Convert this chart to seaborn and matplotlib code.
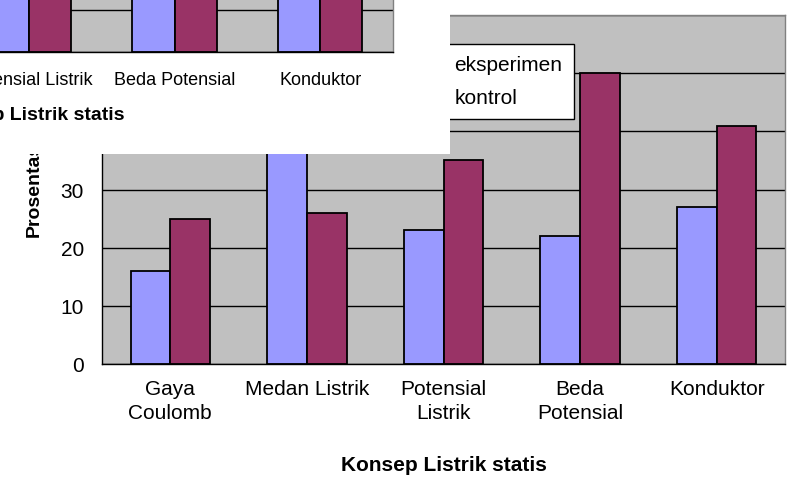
import matplotlib
matplotlib.use("Agg")
import matplotlib.pyplot as plt
from matplotlib.patches import Rectangle, Patch
import seaborn as sns
import pandas as pd

# data
categories = ["Gaya\nCoulomb", "Medan Listrik", "Potensial\nListrik", "Beda\nPotensial", "Konduktor"]
eksperimen = [16, 40, 23, 22, 27]
kontrol = [25, 26, 35, 50, 41]
series_names = ["eksperimen", "kontrol"]
y_ticks = [0, 10, 20, 30, 40, 50, 60]

# the pasted second chart (only its lower strip is visible)
inset_categories = ["Gaya Coulomb", "Medan Listrik", "Potensial Listrik", "Beda Potensial", "Konduktor"]
inset_eksperimen = [30, 35, 32, 30, 34]
inset_kontrol = [32, 30, 38, 45, 40]

colors = ["#9999FF", "#993366"]
W, H = 788, 485

sns.set_style("white")
plt.rcParams["font.family"] = ["Liberation Sans", "DejaVu Sans"]
plt.rcParams["text.color"] = "black"
plt.rcParams["axes.labelcolor"] = "black"
plt.rcParams["xtick.color"] = "black"
plt.rcParams["ytick.color"] = "black"


def long_df(cats, a, b):
    rows = []
    for c, v1, v2 in zip(cats, a, b):
        rows.append({"cat": c, "seri": series_names[0], "val": v1})
        rows.append({"cat": c, "seri": series_names[1], "val": v2})
    return pd.DataFrame(rows)


def style_axes(ax, ncat):
    ax.set_facecolor("#C0C0C0")
    ax.set_xlim(-0.5, ncat - 0.5)
    ax.set_xticks([i - 0.5 for i in range(ncat + 1)], minor=True)
    ax.tick_params(axis="x", which="major", length=0)
    ax.tick_params(axis="x", which="minor", length=7, width=1, color="black", direction="out")
    ax.set_axisbelow(True)
    ax.yaxis.grid(True, color="black", linewidth=1)
    ax.xaxis.grid(False)
    for s in ["left", "bottom"]:
        ax.spines[s].set_color("black")
        ax.spines[s].set_linewidth(1)
    for s in ["top", "right"]:
        ax.spines[s].set_color("#808080")
        ax.spines[s].set_linewidth(1)


fig = plt.figure(figsize=(W / 100, H / 100), dpi=100)

# main chart
ax = fig.add_axes([102 / W, 1 - 365 / H, (785 - 102) / W, (365 - 16) / H])
df = long_df(categories, eksperimen, kontrol)
sns.barplot(data=df, x="cat", y="val", hue="seri", palette=colors, width=0.58,
            edgecolor="black", linewidth=1.3, saturation=1, ax=ax, legend=False)
style_axes(ax, len(categories))
ax.set_ylim(0, 60)
ax.set_yticks(y_ticks)
ax.tick_params(axis="y", length=7, width=1, color="black", direction="out", pad=6, labelsize=15)
ax.tick_params(axis="x", which="major", pad=11, labelsize=15)
for lbl in ax.get_xticklabels():
    lbl.set_linespacing(1.3)
ax.set_xlabel("Konsep Listrik statis", fontsize=15, fontweight="bold", labelpad=24)
ax.set_ylabel("Prosentase", fontsize=14, fontweight="bold")
ax.yaxis.set_label_coords((43 - 102) / 683, 0.516)

handles = [Patch(facecolor=c, edgecolor="black") for c in colors]
leg = ax.legend(handles, series_names, loc="upper right",
                bbox_to_anchor=(574 / W, 1 - 45 / H), bbox_transform=fig.transFigure,
                fontsize=15, frameon=True, fancybox=False, framealpha=1, borderpad=0.55,
                labelspacing=0.66, handletextpad=0.4, borderaxespad=0)
leg.get_frame().set_edgecolor("black")
leg.get_frame().set_facecolor("white")
leg.get_frame().set_linewidth(1)

# white pasted box covering the upper left corner
fig.add_artist(Rectangle((0, 1 - 155 / H), 450 / W, 155 / H, transform=fig.transFigure,
                         facecolor="white", edgecolor="none", zorder=5))

# lower strip of the other chart, pasted on the white box
left_px, right_px = -335, 393
ax2 = fig.add_axes([left_px / W, 1 - 53 / H, (right_px - left_px) / W, 252 / H], zorder=10)
df2 = long_df(inset_categories, inset_eksperimen, inset_kontrol)
sns.barplot(data=df2, x="cat", y="val", hue="seri", palette=colors, width=0.58,
            edgecolor="black", linewidth=1.3, saturation=1, ax=ax2, legend=False)
style_axes(ax2, len(inset_categories))
ax2.set_ylim(0, 60)
ax2.set_yticks(y_ticks)
ax2.tick_params(axis="x", which="minor", length=5)
ax2.tick_params(axis="x", which="major", pad=14, labelsize=13)
ax2.set_xlabel("Konsep Listrik statis", fontsize=14, fontweight="bold", labelpad=13)
ax2.set_ylabel("")
ax2.set_yticklabels([])
ax2.tick_params(axis="y", length=0)

fig.savefig("out.png", dpi=100)
